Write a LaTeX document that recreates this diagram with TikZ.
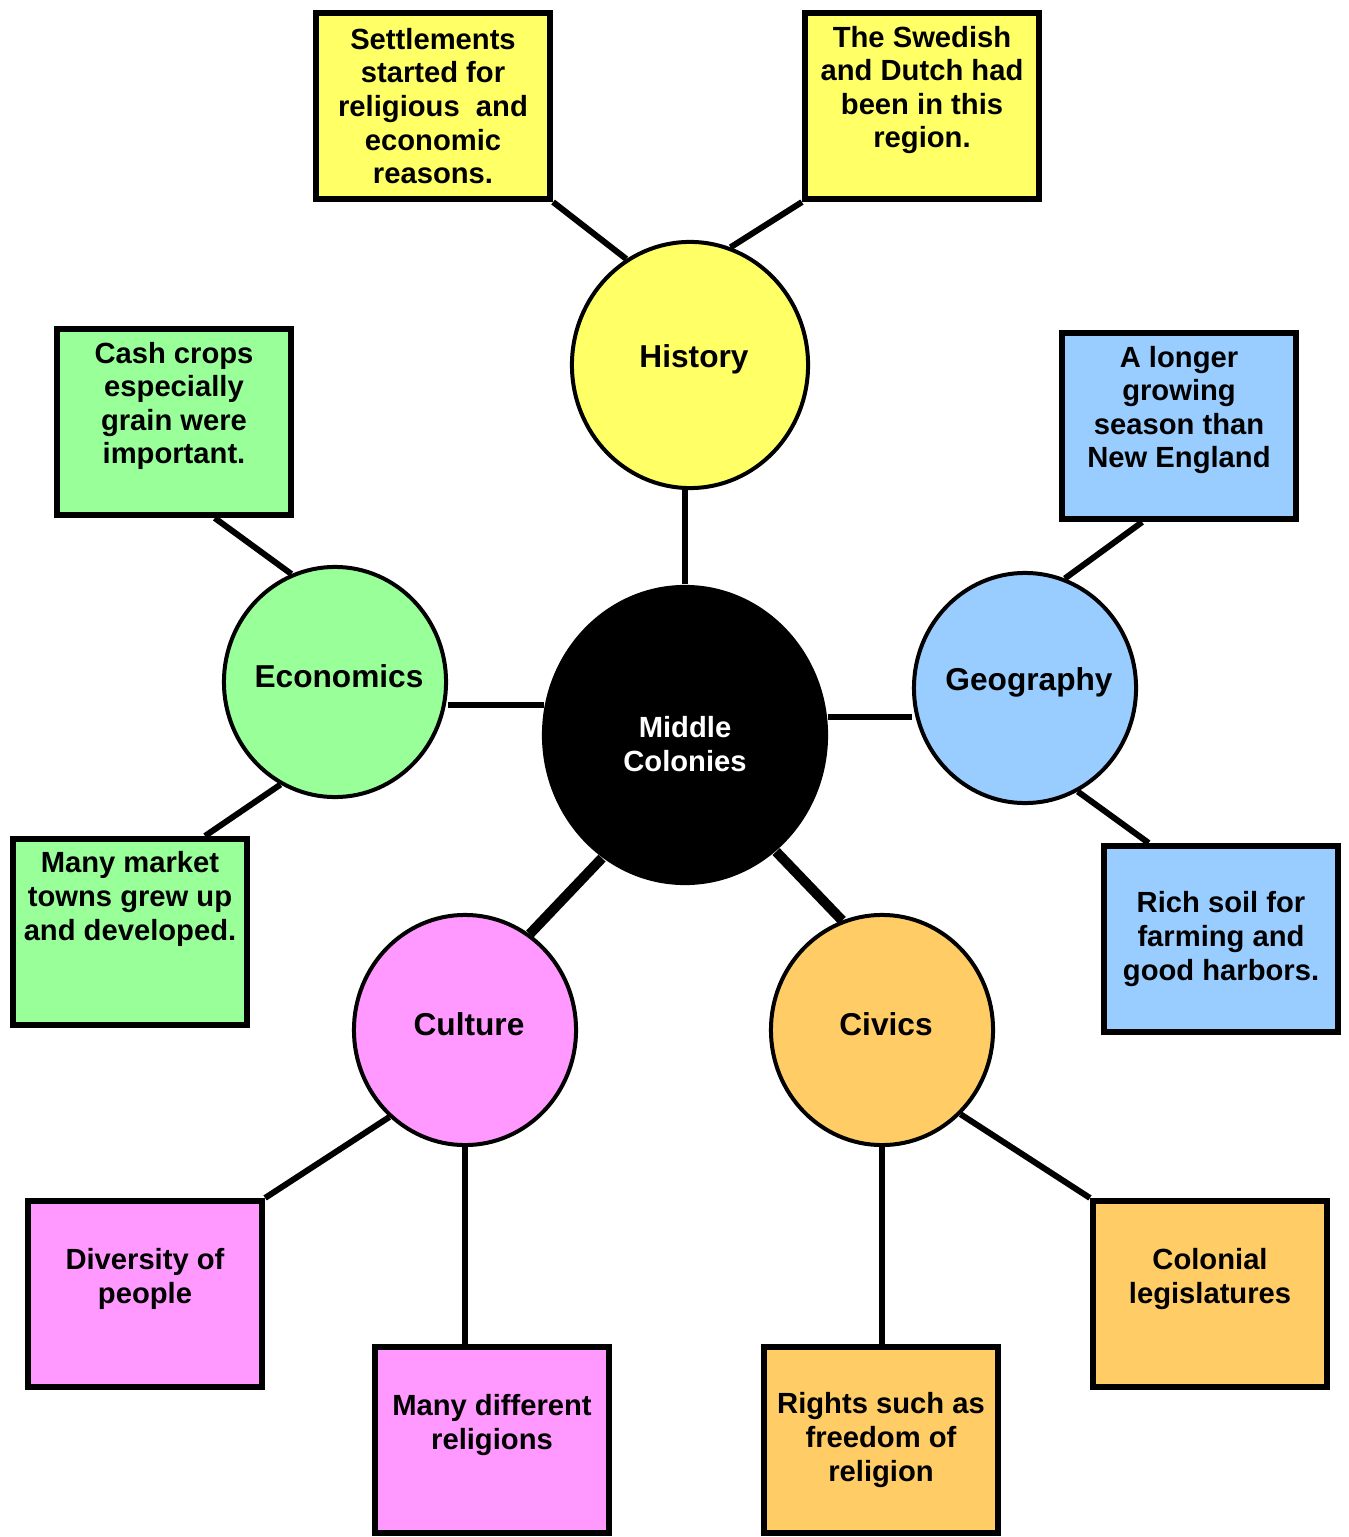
\documentclass[tikz,border=0pt]{standalone}
\usepackage{fontspec}
\setmainfont{Liberation Sans}
\usetikzlibrary{positioning}
\usetikzlibrary{shapes.geometric}

\definecolor{histyellow}{HTML}{FFFF66}
\definecolor{econgreen}{HTML}{99FF99}
\definecolor{geoblue}{HTML}{99CCFF}
\definecolor{cultpink}{HTML}{FF99FF}
\definecolor{civorange}{HTML}{FFCC66}

\tikzset{
  topic/.style={ellipse, draw, line width=0.04cm, minimum width=2.22cm, minimum height=2.30cm, inner sep=0pt},
  topictext/.style={inner sep=0pt, xshift=0.04cm, yshift=0.06cm, font=\bfseries\fontsize{9}{11}\selectfont},
  fact/.style={rectangle, draw, line width=0.06cm, minimum width=2.34cm, minimum height=1.86cm},
  facttext/.style={align=center, inner sep=0pt, font=\bfseries\fontsize{8.3}{9.55}\selectfont},
  link/.style={line width=0.06cm},
  biglink/.style={line width=0.1cm}
}

\begin{document}
\begin{tikzpicture}[x=0.01cm, y=-0.01cm]
\useasboundingbox (0,0) rectangle (1348,1537);

% centre and topics
\node[ellipse, fill=black, minimum width=2.86cm, minimum height=3.0cm, inner sep=0pt,
  label={[align=center, text=white, inner sep=0pt, yshift=-0.09cm, font=\bfseries\fontsize{8.3}{9.67}\selectfont]center:Middle\\Colonies}] (mid) at (685,735) {};
\node[topic, fill=histyellow, minimum width=2.36cm, minimum height=2.46cm, label={[topictext]center:History}] (hist) at (690,365) {};
\node[topic, fill=econgreen, label={[topictext]center:Economics}] (econ) at (335,682) {};
\node[topic, fill=geoblue, label={[topictext]center:Geography}] (geo) at (1025,688) {};
\node[topic, fill=cultpink, label={[topictext]center:Culture}] (cult) at (465,1030) {};
\node[topic, fill=civorange, label={[topictext]center:Civics}] (civ) at (882,1030) {};

% facts
\node[fact, fill=histyellow, label={[facttext]center:Settlements\\started for\\religious \ and\\economic\\reasons.}] (sett) at (433,106) {};
\node[fact, fill=histyellow, label={[facttext, yshift=0.16cm]center:The Swedish\\and Dutch had\\been in this\\region.}] (swed) at (922,106) {};
\node[fact, fill=econgreen, label={[facttext, yshift=0.16cm]center:Cash crops\\especially\\grain were\\important.}] (cash) at (174,422) {};
\node[fact, fill=econgreen, label={[facttext, yshift=0.33cm]center:Many market\\towns grew up\\and developed.}] (mark) at (130,932) {};
\node[fact, fill=geoblue, label={[facttext, yshift=0.16cm]center:A longer\\growing\\season than\\New England}] (long) at (1179,426) {};
\node[fact, fill=geoblue, label={[facttext]center:Rich soil for\\farming and\\good harbors.}] (rich) at (1221,939) {};
\node[fact, fill=cultpink, label={[facttext, yshift=0.15cm]center:Diversity of\\people}] (div) at (145,1294) {};
\node[fact, fill=cultpink, label={[facttext, yshift=0.15cm]center:Many different\\religions}] (relig) at (492,1440) {};
\node[fact, fill=civorange, label={[facttext]center:Rights such as\\freedom of\\religion}] (rights) at (881,1440) {};
\node[fact, fill=civorange, label={[facttext, yshift=0.15cm]center:Colonial\\legislatures}] (colon) at (1210,1294) {};

% links to the centre
\draw[link] (mid.north) -- (mid.north |- hist.south);
\draw[link] (mid.168) -- (mid.168 -| econ.east);
\draw[link] (mid.7) -- (mid.7 -| geo.west);
\draw[biglink] (mid.236) -- (cult.56);
\draw[biglink] (mid.-52) -- (civ.110);

% links to the facts
\draw[link] (sett.south east) -- (hist.121);
\draw[link] (swed.south west) -- (hist.71);
\draw[link] (cash.-67) -- (econ.112);
\draw[link] (mark.52) -- (econ.242);
\draw[link] (long.249) -- (geo.70);
\draw[link] (rich.127) -- (geo.-63);
\draw[link] (div.north east) -- (cult.229);
\draw[link] (cult.south) -- (cult.south |- relig.north);
\draw[link] (civ.south) -- (civ.south |- rights.north);
\draw[link] (colon.north west) -- (civ.-47);
\end{tikzpicture}
\end{document}
